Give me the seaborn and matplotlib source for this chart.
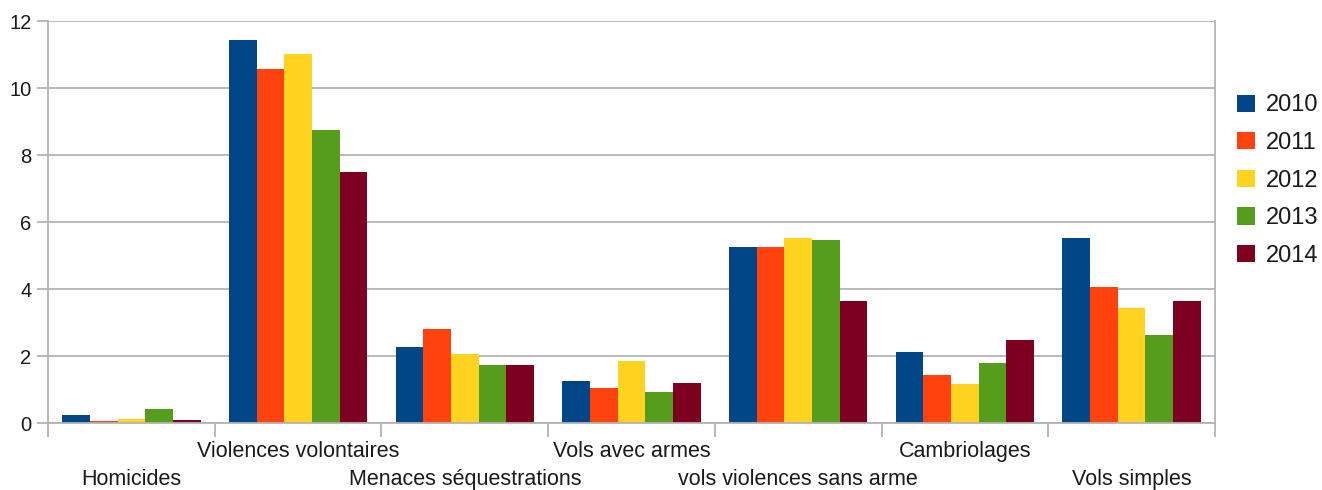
import matplotlib
matplotlib.use("Agg")
import matplotlib.pyplot as plt
import seaborn as sns
import pandas as pd

categories = ["Homicides", "Violences volontaires", "Menaces séquestrations",
              "Vols avec armes", "vols violences sans arme", "Cambriolages",
              "Vols simples"]
years = ["2010", "2011", "2012", "2013", "2014"]
values_2010 = [0.24, 11.44, 2.28, 1.26, 5.24, 2.11, 5.51]
values_2011 = [0.07, 10.58, 2.80, 1.05, 5.24, 1.42, 4.07]
values_2012 = [0.13, 11.01, 2.06, 1.84, 5.51, 1.15, 3.44]
values_2013 = [0.41, 8.76, 1.74, 0.93, 5.46, 1.79, 2.63]
values_2014 = [0.09, 7.49, 1.74, 1.20, 3.65, 2.49, 3.65]
palette = ["#004586", "#ff420e", "#ffd320", "#579d1c", "#7e0021"]

series = [values_2010, values_2011, values_2012, values_2013, values_2014]
rows = []
for year, vals in zip(years, series):
    for cat, v in zip(categories, vals):
        rows.append({"categorie": cat, "annee": year, "valeur": v})
df = pd.DataFrame(rows)

sns.set_theme(style="white")
plt.rcParams["font.family"] = ["Liberation Sans", "DejaVu Sans"]
text_color = "#1a1a1a"
grid_color = "#b3b3b3"

fig = plt.figure(figsize=(13.22, 4.90), dpi=100)
ax = fig.add_axes([48 / 1322, 67 / 490, (1215 - 48) / 1322, (423 - 21) / 490])

sns.barplot(data=df, x="categorie", y="valeur", hue="annee", order=categories,
            hue_order=years, palette=palette, width=0.83, gap=0,
            saturation=1, linewidth=0, ax=ax, legend=True)

ax.set_ylim(0, 12)
ax.set_xlim(-0.5, len(categories) - 0.5)
ax.set_yticks(range(0, 13, 2))
ax.set_yticklabels([str(v) for v in range(0, 13, 2)])
ax.yaxis.grid(True, color=grid_color, linewidth=1.3)
ax.set_axisbelow(True)
ax.set_xlabel("")
ax.set_ylabel("")

# category boundaries as tick marks, labels drawn on two staggered rows
ax.set_xticks([i - 0.5 for i in range(len(categories) + 1)])
ax.set_xticklabels([])
ax.tick_params(axis="x", length=10, width=1.3, color=grid_color, bottom=True)
ax.tick_params(axis="y", length=8, width=1.3, color=grid_color, left=True,
               labelsize=14.5, labelcolor=text_color, pad=4)
xform = ax.get_xaxis_transform()
for i, cat in enumerate(categories):
    yrow = -0.14 if i % 2 == 0 else -0.072
    ax.text(i, yrow, cat, transform=xform, ha="center", va="center",
            fontsize=15.5, color=text_color)

for side in ["left", "bottom", "right", "top"]:
    ax.spines[side].set_color(grid_color)
    ax.spines[side].set_linewidth(1.3)
ax.spines["top"].set_visible(False)

handles, labels = ax.get_legend_handles_labels()
ax.legend(handles, labels, loc="upper left", bbox_to_anchor=(1228 / 1322, 1 - 85 / 490),
          bbox_transform=fig.transFigure, frameon=False, fontsize=17,
          handlelength=0.75, handleheight=0.75, handletextpad=0.45,
          labelspacing=0.66, labelcolor=text_color, borderaxespad=0)

fig.savefig("out.png", dpi=100)
